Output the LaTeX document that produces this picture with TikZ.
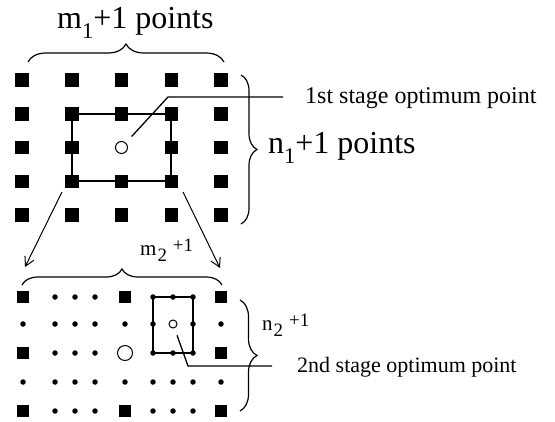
\documentclass[tikz,border=0pt]{standalone}
\usepackage{fontspec}
\setmainfont{Liberation Serif}
\usepackage{graphicx}
\usetikzlibrary{arrows.meta,decorations.pathreplacing}

\newcommand{\lowsub}[1]{\raisebox{-0.33em}{\scalebox{0.7}{#1}}}
\newcommand{\smallsub}[1]{\hspace{1pt}\raisebox{-0.3em}{\scalebox{0.9}{#1}}}

\tikzset{
    bigsq/.style={fill=black, minimum size=13.5pt, inner sep=0pt},
    midsq/.style={fill=black, minimum size=12.5pt, inner sep=0pt},
    smalldot/.style={circle, fill=black, minimum size=5.5pt, inner sep=0pt},
    optpt/.style={circle, draw, line width=1pt, minimum size=#1, inner sep=0pt},
    brc/.style={decorate, decoration={brace, amplitude=#1}, line width=1.2pt},
    leader/.style={line width=1.3pt},
    zoomarrow/.style={-{Straight Barb[length=9pt,width=10pt]}, line width=1pt}
}

\begin{document}
\begin{tikzpicture}[x=1pt, y=-1pt]
    \useasboundingbox (0,0) rectangle (555,421);
    % first stage grid
    \foreach \i in {0,...,4}
        \foreach \j in {0,...,4}
            {\ifnum\numexpr\i*10+\j\relax=22 \else
                \node[bigsq] (p\i\j) at ({22+49.75*\i},{80+33.75*\j}) {};
            \fi}
    \node[optpt=12pt] (o1) at (p21 |- p12) {};
    \draw[line width=1.8pt] (p11.center) rectangle (p33.center);

    % second stage grid
    \foreach \x [count=\i from 0] in {23,55,75,95,125,153,173,193,221}
        \foreach \y [count=\j from 0] in {297,324,353,382,411}
            {\pgfmathtruncatemacro\isbig{(mod(\i,4)==0)&&(mod(\j,2)==0)}
             \pgfmathtruncatemacro\skipit{((\i==4)&&(\j==2))||((\i==6)&&(\j==1))}
             \ifnum\skipit=0
                \ifnum\isbig=1
                    \node[midsq] (q\i\j) at (\x,\y) {};
                \else
                    \node[smalldot] (q\i\j) at (\x,\y) {};
                \fi
             \fi}
    \node[optpt=15pt] (o2) at (q40 |- q02) {};
    \node[optpt=8pt] (o3) at (q60 |- q01) {};
    \draw[line width=1.8pt] (q50.center) rectangle (q72.center);

    % braces
    \draw[brc=18pt] (28,62) -- (224,62);
    \draw[brc=16pt] (241,75) -- (241,224);
    \draw[brc=16pt] (22,285) -- (222,285);
    \draw[brc=17pt] (240,300) -- (240,411);

    % labels
    \node[anchor=base west, inner sep=0pt] (mlab1) at (57,28)
        {\fontsize{32}{32}\selectfont m\lowsub{1}+1 points};
    \node[anchor=base west, inner sep=0pt] (nlab1) at (268,153)
        {\fontsize{32}{32}\selectfont n\lowsub{1}+1 points};
    \node[anchor=base west, inner sep=0pt] (opt1) at (305,103)
        {\fontsize{24}{24}\selectfont 1st stage optimum point};
    \node[anchor=base west, inner sep=0pt] (mlab2) at (140,255)
        {\fontsize{21}{21}\selectfont m\smallsub{2}\hspace{6pt}\raisebox{0.15em}{\scalebox{0.9}{+1}}};
    \node[anchor=base west, inner sep=0pt] (nlab2) at (262,330)
        {\fontsize{21}{21}\selectfont n\smallsub{2}\hspace{6pt}\raisebox{0.15em}{\scalebox{0.9}{+1}}};
    \node[anchor=base west, inner sep=0pt] (opt2) at (297,372)
        {\fontsize{22}{22}\selectfont 2nd stage optimum point};

    % leader lines
    \coordinate (k1) at (168,97);
    \coordinate (e1) at (283,97);
    \draw[leader, shorten <=15pt] (o1.center) -- (k1) -- (e1);
    \coordinate (k2) at (188,366);
    \coordinate (e2) at (272,366);
    \draw[leader, shorten <=12pt] (o3.center) -- (k2) -- (e2);

    % zoom arrows
    \coordinate (a1) at (62,192);
    \coordinate (a2) at (25,267);
    \coordinate (b1) at (183,192);
    \coordinate (b2) at (220,268);
    \draw[zoomarrow] (a1) -- (a2);
    \draw[zoomarrow] (b1) -- (b2);
\end{tikzpicture}
\end{document}
